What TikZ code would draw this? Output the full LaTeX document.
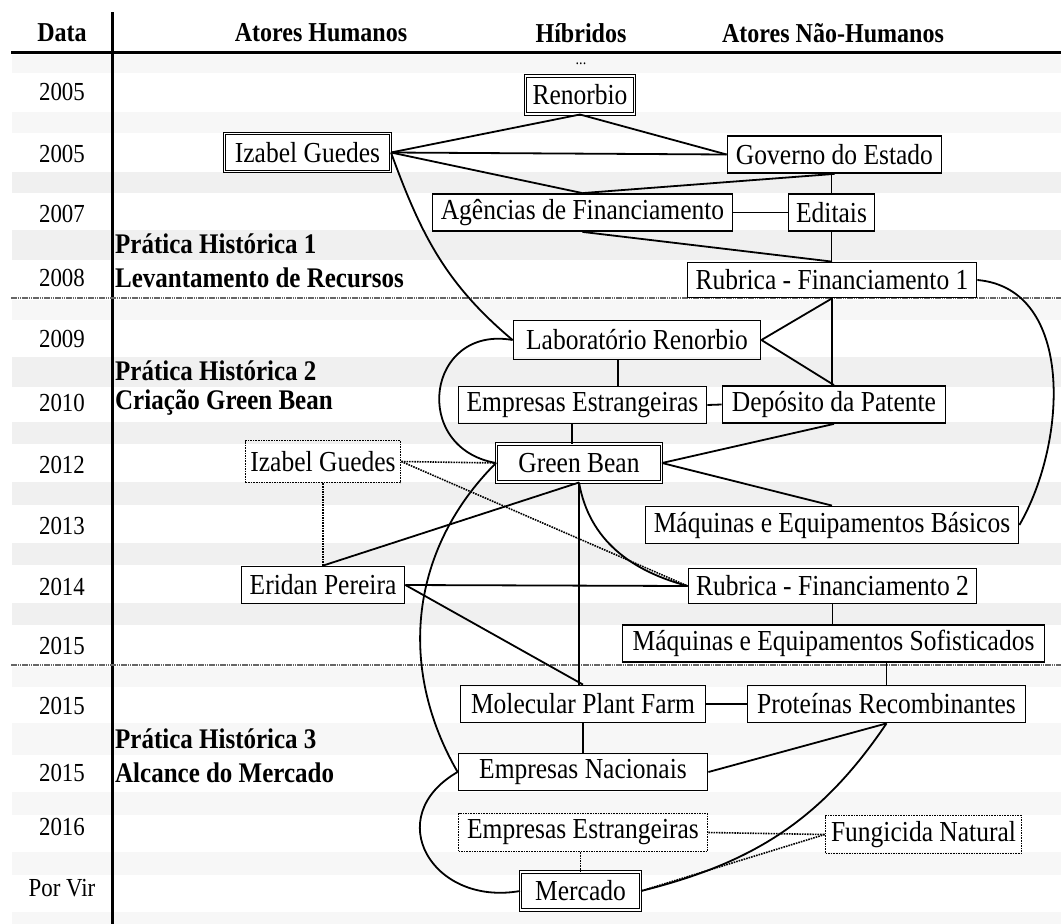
\documentclass[tikz,border=0pt]{standalone}
\usepackage{fontspec}
\setmainfont{Liberation Serif}[FakeStretch=0.88]
\usepackage{xcolor}
\usepackage{tikz}

\begin{document}
\begin{tikzpicture}[x=1pt, y=-1pt]
            \tikzset{
                actor/.style={draw, shape = rectangle, line width=1.8pt, inner sep=1pt, minimum height=37pt, font=\fontsize{29}{31}\selectfont},
                hub/.style={actor, double, double distance=1.6pt, line width=1pt, minimum height=38pt},
                faded/.style={actor, line width=1.6pt, densely dotted},
                link/.style={line width=1.8pt},
                dotlink/.style={line width=1.6pt, densely dotted},
                year/.style={font=\fontsize{26}{28}\selectfont},
                head/.style={font=\bfseries\fontsize{27.3}{29}\selectfont},
                phase/.style={anchor=west, inner sep=0pt, font=\bfseries\fontsize{28.4}{30}\selectfont},
                band/.style={fill=black!6},
                lightband/.style={fill=black!3},
                divider/.style={draw=black!60, line width=2.6pt, dash pattern=on 1.5pt off 0.7pt}
            }
            \useasboundingbox (0,0) rectangle (1061,924);

            \foreach \a/\b in {55/73, 112/133, 300/320, 667/687, 723/755, 792/815, 852/875, 912/924}
                \fill[lightband] (12,\a) rectangle (1061,\b);
            \foreach \a/\b in {172/193, 230/260, 357/387, 422/444, 482/505, 543/565, 603/625}
                \fill[band] (12,\a) rectangle (1061,\b);

            \draw[line width=3pt] (11,52) -- (1061,52);
            \draw[line width=3pt] (112,12) -- (112,924);
            \draw[divider] (11,298) -- (1061,298);
            \draw[divider] (11,665) -- (1061,665);

            \node[head] (hdata) at (62,33) {Data};
            \node[head] (hhum) at (321,33) {Atores Humanos};
            \node[head] (hhib) at (581,33) {Híbridos};
            \node[head] (hnon) at (833,33) {Atores Não-Humanos};

            \foreach \y/\t [count=\i] in {92/2005, 154/2005, 214/2007, 278/2008, 339/2009, 403/2010, 465/2012, 526/2013, 587/2014, 646/2015, 706/2015, 773/2015, 827/2016, 888/Por Vir}
                \node[year] (yr\i) at (62,\y) {\t};

            \node[phase] (ph1) at (115,244) {Prática Histórica 1};
            \node[phase] (ph1t) at (115,278) {Levantamento de Recursos};
            \node[phase] (ph2) at (115,371) {Prática Histórica 2};
            \node[phase] (ph2t) at (115,403) {Criação Green Bean};
            \node[phase] (ph3) at (115,739) {Prática Histórica 3};
            \node[phase] (ph3t) at (115,773) {Alcance do Mercado};

            \node[font=\fontsize{16}{18}\selectfont, inner sep=0pt] (dots) at (581,64) {...};
            \node[hub, minimum width=109pt] (ren) at (580,95) {Renorbio};
            \node[hub, minimum width=166pt] (iz1) at (307.5,152.5) {Izabel Guedes};
            \node[actor, minimum width=214pt] (gov) at (834.5,154.5) {Governo do Estado};
            \node[actor, minimum width=300pt] (ag) at (582.5,212.5) {Agências de Financiamento};
            \node[actor, minimum width=86pt] (ed) at (831.5,212.5) {Editais};
            \node[actor, minimum width=289pt, minimum height=35pt] (rub1) at (832,280) {Rubrica - Financiamento 1};
            \node[actor, minimum width=247pt, minimum height=39pt] (lab) at (637,340) {Laboratório Renorbio};
            \node[actor, minimum width=248pt] (ee1) at (582.5,405) {Empresas Estrangeiras};
            \node[actor, minimum width=223pt] (dep) at (834,404.5) {Depósito da Patente};
            \node[hub, minimum width=165pt] (gb) at (579,463) {Green Bean};
            \node[faded, minimum width=155pt, minimum height=42pt] (iz2) at (323,461.5) {Izabel Guedes};
            \node[actor, minimum width=163pt] (eri) at (323,585) {Eridan Pereira};
            \node[actor, minimum width=373pt] (mqb) at (832,525) {Máquinas e Equipamentos Básicos};
            \node[actor, minimum width=288pt, minimum height=35pt] (rub2) at (832.5,586) {Rubrica - Financiamento 2};
            \node[actor, minimum width=422pt] (mqs) at (833.5,643.5) {Máquinas e Equipamentos Sofisticados};
            \node[actor, minimum width=245pt] (mpf) at (583,704) {Molecular Plant Farm};
            \node[actor, minimum width=278pt] (prot) at (886.5,704) {Proteínas Recombinantes};
            \node[actor, minimum width=249pt] (en) at (583,772) {Empresas Nacionais};
            \node[faded, minimum width=249pt, minimum height=38pt] (ee2) at (583,832.5) {Empresas Estrangeiras};
            \node[faded, minimum width=196pt, minimum height=38pt] (fung) at (923.5,834.5) {Fungicida Natural};
            \node[hub, minimum width=120pt] (merc) at (580.5,891) {Mercado};

            \coordinate (lx) at ([xshift=-19pt]lab.south);
            \coordinate (gx) at ([xshift=-7pt]gb.north);

            \path (ren.south) edge[link] (iz1.east);
            \path (ren.south) edge[link] (gov.west);
            \path (iz1.east) edge[link] (gov.west);
            \path (iz1.east) edge[link] (ag.north);
            \path (gov.south) edge[link] (ag.north);
            \path (ed.north |- gov.south) edge[link] (ed.north);
            \path (ag.east) edge[link] (ed.west);
            \path (ag.south) edge[link] (rub1.north);
            \path (ed.south) edge[link] (ed.south |- rub1.north);
            \path (iz1.east) edge[link, out=-70, in=140] (lab.west);
            \path (rub1.south) edge[link] (lab.east);
            \path (rub1.south) edge[link] (rub1.south |- dep.north);
            \path (lab.east) edge[link] (dep.north);
            \path (lx) edge[link] (lx |- ee1.north);
            \path (ee1.east) edge[link] (dep.west);
            \path (gx |- ee1.south) edge[link] (gx);
            \path (lab.west) edge[link, out=170, in=170, looseness=1.8] (gb.west);
            \path (dep.south) edge[link] (gb.east);
            \path (rub1.east) edge[link, out=-5, in=60] (mqb.east);
            \path (gb.east) edge[link] (mqb.north);
            \path (gb.south) edge[link] (eri.north);
            \path (iz2.east) edge[dotlink] (gb.west);
            \path (iz2.east) edge[dotlink] (rub2.west);
            \path (iz2.south) edge[dotlink] (eri.north);
            \path (gb.south) edge[link, out=-80, in=165] (rub2.west);
            \path (gb.south) edge[link] (gb.south |- mpf.north);
            \path (eri.east) edge[link] (rub2.west);
            \path (eri.east) edge[link] (mpf.north);
            \path (gb.west) edge[link, out=225, in=120] (en.west);
            \path (rub2.south) edge[link] (rub2.south |- mqs.north);
            \path (mpf.east) edge[link] (prot.west);
            \path (prot.north |- mqs.south) edge[link] (prot.north);
            \path (mpf.south) edge[link] (mpf.south |- en.north);
            \path (en.east) edge[link] (prot.south);
            \path (prot.south) edge[link, out=-124, in=14] (merc.east);
            \path (en.west) edge[link, out=210, in=190, looseness=1.7] (merc.west);
            \path (ee2.east) edge[dotlink] (fung.west);
            \path (merc.north |- ee2.south) edge[dotlink] (merc.north);
            \path (fung.west) edge[dotlink] (merc.east);
        \end{tikzpicture}
\end{document}
